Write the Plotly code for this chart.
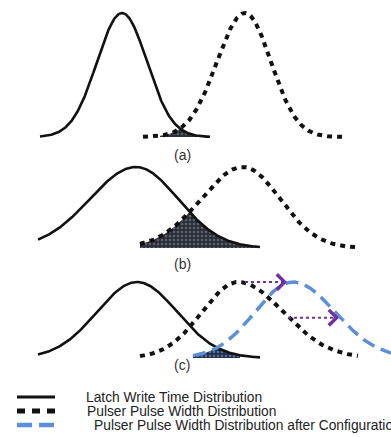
import numpy as np
import plotly.graph_objects as go

# ---------------- data ----------------
panels = ["(a)", "(b)", "(c)"]

# split-normal parameters per curve: mean, left sigma, right sigma, x extent
latch_mean = [122, 136, 137]
latch_sig_l = [25, 46, 40]
latch_sig_r = [25, 42, 40]
latch_lo = [40, 38, 38]
latch_hi = [210, 260, 260]

pulser_mean = [245, 243, 238]
pulser_sig_l = [28, 42, 36]
pulser_sig_r = [26, 37, 45]
pulser_lo = [143, 140, 140]
pulser_hi = [343, 358, 358]

config_mean = 293
config_sig_l = 38
config_sig_r = 42
config_lo = 193
config_hi = 391

# failure (overlap) regions
fail_lo = [160, 140, 193]
fail_hi = [208, 256, 240]

# configuration shift arrows (panel c)
arrow_level = [1.0, 0.53]
arrow_x0 = [245, 288]
arrow_x1 = [287, 339]

legend_labels = [
    "Latch Write Time Distribution",
    "Pulser Pulse Width Distribution",
    "Pulser Pulse Width Distribution after Configuration",
]

# ---------------- helpers ----------------
W, H = 391, 437


def split_normal(x, m, sl, sr):
    s = np.where(x < m, sl, sr)
    return np.exp(-0.5 * ((x - m) / s) ** 2)


# pixel geometry of each panel: (domain top px, domain bottom px, baseline px, peak px)
geom = [(0, 150, 137, 13), (150, 262, 248, 167), (262, 380, 358, 282)]

BLACK = "#111111"
BLUE = "#5b8fd8"
PURPLE = "#7030a0"
FONT = "Liberation Sans, Arial, sans-serif"

fig = go.Figure()
layout = dict(
    width=W, height=H, margin=dict(l=0, r=0, t=0, b=0),
    paper_bgcolor="white", plot_bgcolor="white", showlegend=False,
    xaxis=dict(range=[0, W], visible=False, fixedrange=True),
)

yaxes = ["y", "y2", "y3"]
for i, (top, bot, base, peak) in enumerate(geom):
    scale = base - peak
    r0 = -(bot - base) / scale
    r1 = (base - top) / scale
    key = "yaxis" if i == 0 else f"yaxis{i+1}"
    layout[key] = dict(domain=[1 - bot / H, 1 - top / H], range=[r0, r1],
                       visible=False, anchor="x", fixedrange=True)

for i in range(3):
    ya = yaxes[i]
    # failure region fill
    xf = np.linspace(fail_lo[i], fail_hi[i], 200)
    y_l = split_normal(xf, latch_mean[i], latch_sig_l[i], latch_sig_r[i])
    if i < 2:
        y_o = split_normal(xf, pulser_mean[i], pulser_sig_l[i], pulser_sig_r[i])
        bg, fg = "#2b2e35", "#8e98a6"
    else:
        y_o = split_normal(xf, config_mean, config_sig_l, config_sig_r)
        bg, fg = "#1f2f52", "#a3b3cf"
    fig.add_trace(go.Scatter(
        x=xf, y=np.minimum(y_l, y_o), yaxis=ya, mode="none", fill="tozeroy",
        fillcolor=bg,
        fillpattern=dict(shape=".", bgcolor=bg, fgcolor=fg, size=4, solidity=0.3),
        hoverinfo="skip"))

    # latch curve
    xl = np.linspace(latch_lo[i], latch_hi[i], 300)
    fig.add_trace(go.Scatter(
        x=xl, y=split_normal(xl, latch_mean[i], latch_sig_l[i], latch_sig_r[i]),
        yaxis=ya, mode="lines", line=dict(color=BLACK, width=2.6)))
    # pulser curve
    xp = np.linspace(pulser_lo[i], pulser_hi[i], 300)
    fig.add_trace(go.Scatter(
        x=xp, y=split_normal(xp, pulser_mean[i], pulser_sig_l[i], pulser_sig_r[i]),
        yaxis=ya, mode="lines", line=dict(color=BLACK, width=4, dash="5px,5px")))

# configured pulser curve (panel c)
xc = np.linspace(config_lo, config_hi, 300)
fig.add_trace(go.Scatter(
    x=xc, y=split_normal(xc, config_mean, config_sig_l, config_sig_r),
    yaxis="y3", mode="lines", line=dict(color=BLUE, width=3.5, dash="13px,7px")))

annotations = []
# shift arrows
for lvl, a0, a1 in zip(arrow_level, arrow_x0, arrow_x1):
    fig.add_trace(go.Scatter(
        x=[a0, a1 - 4], y=[lvl, lvl], yaxis="y3", mode="lines",
        line=dict(color=PURPLE, width=2, dash="3px,3px")))
    annotations.append(dict(
        x=a1, y=lvl, xref="x", yref="y3", ax=a1 - 8, ay=lvl, axref="x", ayref="y3",
        showarrow=True, arrowhead=4, arrowsize=1.5, arrowwidth=2,
        arrowcolor=PURPLE, standoff=0, text=" "))

# panel labels
label_px = [(182, 155), (182, 264), (182, 375)]
for lab, (px, py) in zip(panels, label_px):
    annotations.append(dict(
        x=px / W, y=1 - py / H, xref="paper", yref="paper", text=lab,
        showarrow=False, font=dict(family=FONT, size=14, color="#333")))

# legend
shapes = []
leg_y = [397, 411, 425]
leg_style = [dict(color=BLACK, width=3),
             dict(color=BLACK, width=5, dash="8px,7px"),
             dict(color=BLUE, width=4.5, dash="15px,7px")]
leg_text_x = [84, 85, 92]
for lab, py, st, tx in zip(legend_labels, leg_y, leg_style, leg_text_x):
    shapes.append(dict(type="line", xref="paper", yref="paper",
                       x0=17 / W, x1=55 / W, y0=1 - py / H, y1=1 - py / H, line=st))
    annotations.append(dict(
        x=tx / W, y=1 - py / H, xref="paper", yref="paper", text=lab,
        xanchor="left", yanchor="middle", showarrow=False,
        font=dict(family=FONT, size=13.8, color="#222")))

layout["annotations"] = annotations
layout["shapes"] = shapes
fig.update_layout(**layout)
fig.write_html("out.html", config={"displayModeBar": False},
               post_script="document.body.style.margin='0';")
